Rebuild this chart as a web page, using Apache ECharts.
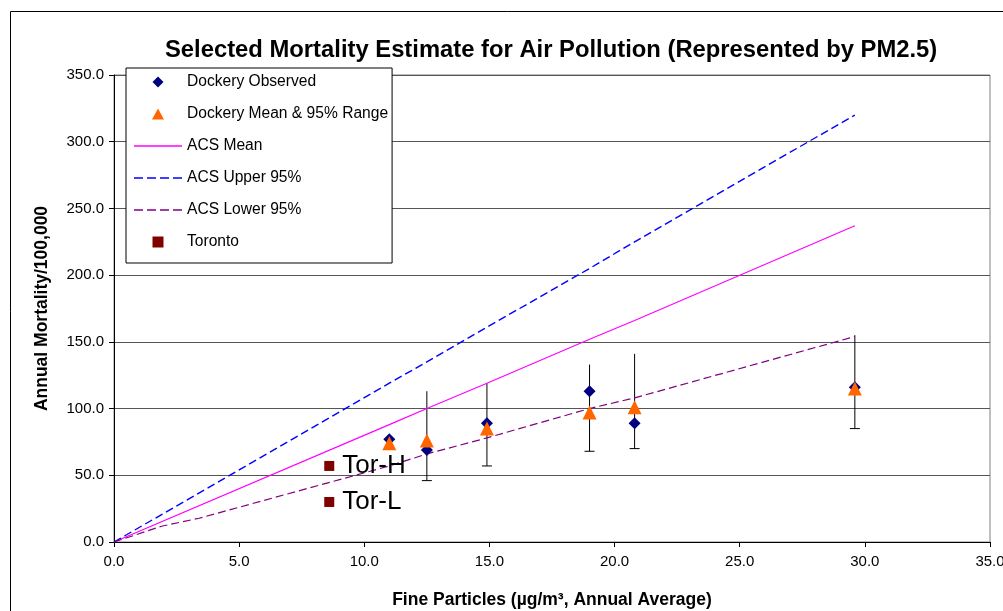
<!DOCTYPE html>
<html>
<head>
<meta charset="utf-8">
<script src="https://cdn.jsdelivr.net/npm/echarts@6/dist/echarts.min.js"></script>
<style>
html,body{margin:0;padding:0;background:#fff;}
#chart{width:1003px;height:611px;}
</style>
</head>
<body>
<div id="chart"></div>
<script>
// ---- data ----
const titleText = 'Selected Mortality Estimate for Air Pollution (Represented by PM2.5)';
const xAxisTitle = 'Fine Particles (µg/m³, Annual Average)';
const yAxisTitle = 'Annual Mortality/100,000';

const dockeryX        = [11.0, 12.5, 14.9, 19.0, 20.8, 29.6];
const dockeryObserved = [77, 69, 89, 113, 89, 116];
const dockeryMean     = [74, 76, 85, 97, 101, 115];
const dockeryLow      = [null, 46, 57, 68, 70, 85];
const dockeryHigh     = [null, 113, 119, 133, 141, 155];

const acsX      = [0, 11.0, 12.5, 14.9, 19.0, 20.8, 29.6];
const acsMean   = [0, 88, 100, 119, 152, 166, 237];
const acsUpper  = [0, 119, 135, 161, 205, 225, 320];
const acsLowerX = [0, 1.9, 3.4, 11.0, 12.5, 14.9, 19.0, 20.8, 29.6];
const acsLower  = [0, 11.8, 17.8, 57, 66, 78, 100, 108, 154];

const torontoX      = [8.6, 8.6];
const torontoY      = [57, 30];
const torontoLabels = ['Tor-H', 'Tor-L'];

const seriesNames = ['Dockery Observed', 'Dockery Mean & 95% Range', 'ACS Mean', 'ACS Upper 95%', 'ACS Lower 95%', 'Toronto'];

// ---- build ----
const zip = (xs, ys) => xs.map((x, i) => [x, ys[i]]);
const errData = dockeryX.map((x, i) => [x, dockeryLow[i], dockeryHigh[i]]).filter(d => d[1] != null);
const torData = torontoX.map((x, i) => ({ value: [x, torontoY[i]], label: { formatter: torontoLabels[i] } }));

const solidIcon = 'path://M0,0L48,0L48,1.6L0,1.6Z';
const dashIcon = 'path://M0,0L9,0L9,1.6L0,1.6Z M13,0L22,0L22,1.6L13,1.6Z M26,0L35,0L35,1.6L26,1.6Z M39,0L48,0L48,1.6L39,1.6Z';
const legendIcons = {
  'Dockery Observed': 'path://M5,0L10,5L5,10L0,5Z',
  'Dockery Mean & 95% Range': 'path://M6,0L12,11L0,11Z',
  'ACS Mean': solidIcon,
  'ACS Upper 95%': dashIcon,
  'ACS Lower 95%': dashIcon,
  'Toronto': 'path://M0,0L10,0L10,10L0,10Z'
};
const legendData = seriesNames.map(n => ({ name: n, icon: legendIcons[n] }));

const FONT = '"Liberation Sans", Arial, sans-serif';
const chart = echarts.init(document.getElementById('chart'), null, { renderer: 'canvas' });
chart.setOption({
  animation: false,
  backgroundColor: '#fff',
  textStyle: { fontFamily: FONT },
  title: {
    text: titleText, left: 160, top: 33,
    textStyle: { fontSize: 23.8, fontWeight: 'bold', color: '#000', fontFamily: FONT }
  },
  graphic: [{
    type: 'rect', shape: { x: 10.5, y: 11.5, width: 1010, height: 700 },
    style: { fill: 'none', stroke: '#000', lineWidth: 1 }, silent: true, z: -1
  }],
  grid: {
    left: 114, right: 13, top: 75, bottom: 69, show: true, borderColor: '#808080', borderWidth: 1,
    containLabel: false, outerBoundsMode: 'none'
  },
  legend: {
    data: legendData, orient: 'vertical', left: 126, top: 68,
    backgroundColor: '#fff', borderColor: '#000', borderWidth: 1,
    padding: [6, 4, 13, 8], itemWidth: 48, itemHeight: 11, itemGap: 16,
    textStyle: { fontSize: 15.6, color: '#000', fontFamily: FONT }
  },
  xAxis: {
    type: 'value', min: 0, max: 35, interval: 5,
    name: xAxisTitle, nameLocation: 'middle', nameGap: 49,
    nameTextStyle: { fontSize: 17.5, fontWeight: 'bold', color: '#000', fontFamily: FONT },
    axisLine: { show: true, lineStyle: { color: '#000', width: 1 } },
    axisTick: { show: true, length: 5, lineStyle: { color: '#000' } },
    axisLabel: { fontSize: 15, color: '#000', margin: 12, formatter: v => v.toFixed(1) },
    splitLine: { show: false }
  },
  yAxis: {
    type: 'value', min: 0, max: 350, interval: 50,
    name: yAxisTitle, nameLocation: 'middle', nameGap: 63,
    nameTextStyle: { fontSize: 17.5, fontWeight: 'bold', color: '#000', fontFamily: FONT },
    axisLine: { show: true, lineStyle: { color: '#000', width: 1 } },
    axisTick: { show: true, length: 5, lineStyle: { color: '#000' } },
    axisLabel: { fontSize: 15, color: '#000', margin: 10, formatter: v => v.toFixed(1) },
    splitLine: { show: true, lineStyle: { color: '#555', width: 1 } }
  },
  series: [
    {
      name: 'Dockery Observed', type: 'scatter', data: zip(dockeryX, dockeryObserved),
      symbol: 'diamond', symbolSize: 12, itemStyle: { color: '#000080', opacity: 1 }, z: 4
    },
    {
      name: 'Dockery Mean & 95% Range', type: 'scatter', data: zip(dockeryX, dockeryMean),
      symbol: 'triangle', symbolSize: 14, itemStyle: { color: '#FF6600', opacity: 1 }, z: 5
    },
    {
      name: 'ACS Mean', type: 'line', data: zip(acsX, acsMean), symbol: 'none',
      lineStyle: { color: '#FF00FF', width: 1.2 }, itemStyle: { color: '#FF00FF' }, z: 3
    },
    {
      name: 'ACS Upper 95%', type: 'line', data: zip(acsX, acsUpper), symbol: 'none',
      lineStyle: { color: '#0000FF', width: 1.4, type: [8, 4] }, itemStyle: { color: '#0000FF' }, z: 3
    },
    {
      name: 'ACS Lower 95%', type: 'line', data: zip(acsLowerX, acsLower), symbol: 'none',
      lineStyle: { color: '#800080', width: 1.2, type: [8, 4] }, itemStyle: { color: '#800080' }, z: 3
    },
    {
      name: 'Toronto', type: 'scatter', data: torData, symbol: 'rect', symbolSize: 10,
      itemStyle: { color: '#800000', opacity: 1 }, z: 4,
      label: { show: true, position: 'right', distance: 8, fontSize: 26, color: '#000', fontFamily: FONT }
    },
    {
      name: 'errorbars', type: 'custom', data: errData, z: 2,
      renderItem: function (params, api) {
        const x = api.value(0), lo = api.value(1), hi = api.value(2);
        const top = api.coord([x, hi]), bot = api.coord([x, lo]);
        return {
          type: 'group', children: [
            { type: 'line', shape: { x1: top[0], y1: top[1], x2: bot[0], y2: bot[1] }, style: { stroke: '#000', lineWidth: 1 } },
            { type: 'line', shape: { x1: bot[0] - 5, y1: bot[1], x2: bot[0] + 5, y2: bot[1] }, style: { stroke: '#000', lineWidth: 1 } }
          ]
        };
      }
    }
  ]
});
</script>
</body>
</html>
